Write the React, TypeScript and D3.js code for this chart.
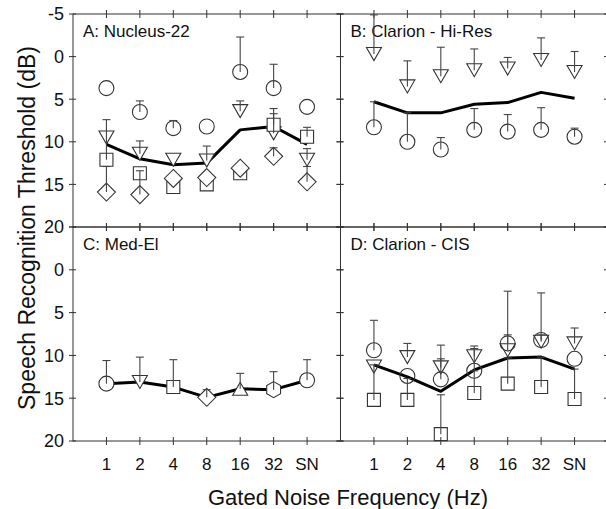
import React from "react";
import * as d3 from "d3";

// categories on the x axis
const cats = ["1", "2", "4", "8", "16", "32", "SN"];
const yTicksTop = [-5, 0, 5, 10, 15, 20];
const yTicksBottom = [0, 5, 10, 15, 20];

// Panel A: Nucleus-22
const aCircle = [3.7, 6.5, 8.4, 8.2, 1.8, 3.7, 5.9];
const aCircleErr = [null, 5.2, 7.5, null, -2.3, 0.9, null];
const aTri = [9.5, 11.4, 12.1, 12.2, 6.4, 9.0, 12.1];
const aTriErr = [null, 9.9, null, 10.5, 5.2, 6.7, 10.8];
const aSquare = [12.1, 13.7, 15.3, 15.0, 13.7, 8.0, 9.4];
const aSquareErr = [7.4, null, null, null, null, 6.1, 8.3];
const aDiamond = [15.9, 16.2, 14.3, 14.2, 13.1, 11.7, 14.7];
const aDiamondErr = [12.9, 13.4, null, null, null, 10.7, 12.9];
const aMean = [10.3, 12.0, 12.7, 12.5, 8.6, 8.2, 10.3];

// Panel B: Clarion - Hi-Res
const bTri = [-0.3, 3.5, 2.3, 1.6, 1.4, 0.4, 1.8];
const bTriErr = [-4.9, 0.5, -1.1, -0.9, 0.1, -2.2, -0.6];
const bCircle = [8.3, 10.0, 10.9, 8.6, 8.8, 8.6, 9.4];
const bCircleErr = [5.3, 6.6, 9.5, 6.1, 6.8, 6.0, 8.4];
const bMean = [5.3, 6.6, 6.6, 5.6, 5.4, 4.2, 4.9];

// Panel C: Med-El (one subject per frequency)
const cShapes = ["circle", "triDown", "square", "diamond", "triUp", "hexagon", "circle"];
const cVals = [13.3, 13.1, 13.7, 14.9, 13.9, 14.0, 12.9];
const cErr = [10.6, 10.2, 10.5, 14.0, 12.1, 11.9, 10.5];

// Panel D: Clarion - CIS
const dCircle = [9.4, 12.4, 12.8, 11.8, 8.6, 8.2, 10.4];
const dCircleErr = [5.9, null, 10.4, 9.2, 7.6, 7.6, null];
const dTri = [11.3, 10.2, 11.4, 10.1, 9.4, 8.4, 8.6];
const dTriErr = [null, 8.6, 8.8, 8.9, 2.5, 2.7, 6.8];
const dSquare = [15.2, 15.2, 19.2, 14.4, 13.3, 13.7, 15.1];
const dSquareErr = [11.1, 12.7, 14.6, 11.8, 10.3, 10.2, 11.6];
const dMean = [11.1, 12.5, 14.2, 11.7, 10.3, 10.2, 11.6];

type Series = { shape: string | string[]; vals: number[]; err?: (number | null)[] };
type Panel = {
  label: string;
  col: number;
  row: number;
  series: Series[];
  mean: number[];
  fill: string;
};

const panels: Panel[] = [
  {
    label: "A: Nucleus-22", col: 0, row: 0, fill: "#fff", mean: aMean,
    series: [
      { shape: "triDown", vals: aTri, err: aTriErr },
      { shape: "square", vals: aSquare, err: aSquareErr },
      { shape: "diamond", vals: aDiamond, err: aDiamondErr },
      { shape: "circle", vals: aCircle, err: aCircleErr },
    ],
  },
  {
    label: "B: Clarion - Hi-Res", col: 1, row: 0, fill: "#fff", mean: bMean,
    series: [
      { shape: "triDown", vals: bTri, err: bTriErr },
      { shape: "circle", vals: bCircle, err: bCircleErr },
    ],
  },
  {
    label: "C: Med-El", col: 0, row: 1, fill: "#fff", mean: cVals,
    series: [{ shape: cShapes, vals: cVals, err: cErr }],
  },
  {
    label: "D: Clarion - CIS", col: 1, row: 1, fill: "none", mean: dMean,
    series: [
      { shape: "square", vals: dSquare, err: dSquareErr },
      { shape: "triDown", vals: dTri, err: dTriErr },
      { shape: "circle", vals: dCircle, err: dCircleErr },
    ],
  },
];

const FONT = "'Liberation Sans', Arial, sans-serif";
const colX = [73, 340.5, 608];
const rowY = [14, 227, 441];

function markerPath(shape: string, x: number, y: number): string {
  switch (shape) {
    case "triDown":
      return `M${x - 7.5},${y - 6.5}L${x + 7.5},${y - 6.5}L${x},${y + 6.5}Z`;
    case "triUp":
      return `M${x - 7.5},${y + 6.5}L${x + 7.5},${y + 6.5}L${x},${y - 6.5}Z`;
    case "square":
      return `M${x - 6.5},${y - 6.5}h13v13h-13Z`;
    case "diamond":
      return `M${x},${y - 9}L${x + 9},${y}L${x},${y + 9}L${x - 9},${y}Z`;
    case "hexagon": {
      const pts = d3.range(6).map((i) => {
        const a = (Math.PI / 3) * i - Math.PI / 2;
        return [x + 8 * Math.cos(a), y + 8 * Math.sin(a)] as [number, number];
      });
      return d3.line()(pts) + "Z";
    }
    default: {
      const p = d3.path();
      p.arc(x, y, 7.5, 0, 2 * Math.PI);
      return p.toString();
    }
  }
}

function PanelView({ p }: { p: Panel }) {
  const x = d3.scaleLinear().domain([0, 8]).range([colX[p.col], colX[p.col + 1]]);
  const y = d3.scaleLinear().domain([-5, 20]).range([rowY[p.row], rowY[p.row + 1]]);
  const [x0, x1] = x.range();
  const [y0, y1] = y.range();
  const meanLine = d3
    .line<number>()
    .x((_, i) => x(i + 1))
    .y((d) => y(d));

  return (
    <g>
      {/* frame */}
      <rect x={x0} y={y0} width={x1 - x0} height={y1 - y0} fill="none" stroke="#333" strokeWidth={1} />
      {cats.map((c, i) => (
        <g key={c}>
          <line x1={x(i + 1)} x2={x(i + 1)} y1={y0 - 4} y2={y0 + 4} stroke="#333" />
          <line x1={x(i + 1)} x2={x(i + 1)} y1={y1 - 4} y2={y1 + 4} stroke="#333" />
        </g>
      ))}
      {yTicksTop.map((t) => (
        <g key={t}>
          <line x1={x0 - 4} x2={x0 + 3} y1={y(t)} y2={y(t)} stroke="#333" />
          <line x1={x1 - 4} x2={x1 + 3} y1={y(t)} y2={y(t)} stroke="#333" />
        </g>
      ))}
      <text x={x0 + 10} y={y0 + 23} fontFamily={FONT} fontSize={17} fill="#111">
        {p.label}
      </text>
      {/* mean line */}
      <path d={meanLine(p.mean) || ""} fill="none" stroke="#000" strokeWidth={3} strokeLinejoin="round" />
      {/* markers */}
      {p.series.map((s, si) =>
        s.vals.map((v, i) => {
          const shape = Array.isArray(s.shape) ? s.shape[i] : s.shape;
          return (
            <path key={`m${si}-${i}`} d={markerPath(shape, x(i + 1), y(v))} fill={p.fill} stroke="#333" strokeWidth={1.1} />
          );
        })
      )}
      {/* error bars */}
      {p.series.map((s, si) =>
        (s.err || []).map((e, i) =>
          e == null ? null : (
            <g key={`e${si}-${i}`} stroke="#444" strokeWidth={1.1}>
              <line x1={x(i + 1)} x2={x(i + 1)} y1={y(s.vals[i])} y2={y(e)} />
              <line x1={x(i + 1) - 4} x2={x(i + 1) + 4} y1={y(e)} y2={y(e)} />
            </g>
          )
        )
      )}
    </g>
  );
}

export default function App() {
  const yTop = d3.scaleLinear().domain([-5, 20]).range([rowY[0], rowY[1]]);
  const yBot = d3.scaleLinear().domain([-5, 20]).range([rowY[1], rowY[2]]);
  const xL = d3.scaleLinear().domain([0, 8]).range([colX[0], colX[1]]);
  const xR = d3.scaleLinear().domain([0, 8]).range([colX[1], colX[2]]);
  return (
    <svg width={606} height={509} style={{ position: "absolute", left: 0, top: 0, background: "#fff" }}>
      <rect width={606} height={509} fill="#fff" />
      {panels.map((p) => (
        <PanelView key={p.label} p={p} />
      ))}
      {yTicksTop.map((t) => (
        <text key={`yt${t}`} x={64} y={yTop(t)} dy="0.35em" textAnchor="end" fontFamily={FONT} fontSize={18} fill="#111">
          {t}
        </text>
      ))}
      {yTicksBottom.map((t) => (
        <text key={`yb${t}`} x={64} y={yBot(t)} dy="0.35em" textAnchor="end" fontFamily={FONT} fontSize={18} fill="#111">
          {t}
        </text>
      ))}
      {[xL, xR].map((xs, k) =>
        cats.map((c, i) => (
          <text key={`xt${k}-${c}`} x={xs(i + 1)} y={470} textAnchor="middle" fontFamily={FONT} fontSize={17} fill="#111">
            {c}
          </text>
        ))
      )}
      <text x={348} y={505} textAnchor="middle" fontFamily={FONT} fontSize={22} fill="#111">
        Gated Noise Frequency (Hz)
      </text>
      <text
        transform={`translate(35,228) rotate(-90)`}
        textAnchor="middle"
        fontFamily={FONT}
        fontSize={23}
        fill="#111"
      >
        Speech Recognition Threshold (dB)
      </text>
    </svg>
  );
}
